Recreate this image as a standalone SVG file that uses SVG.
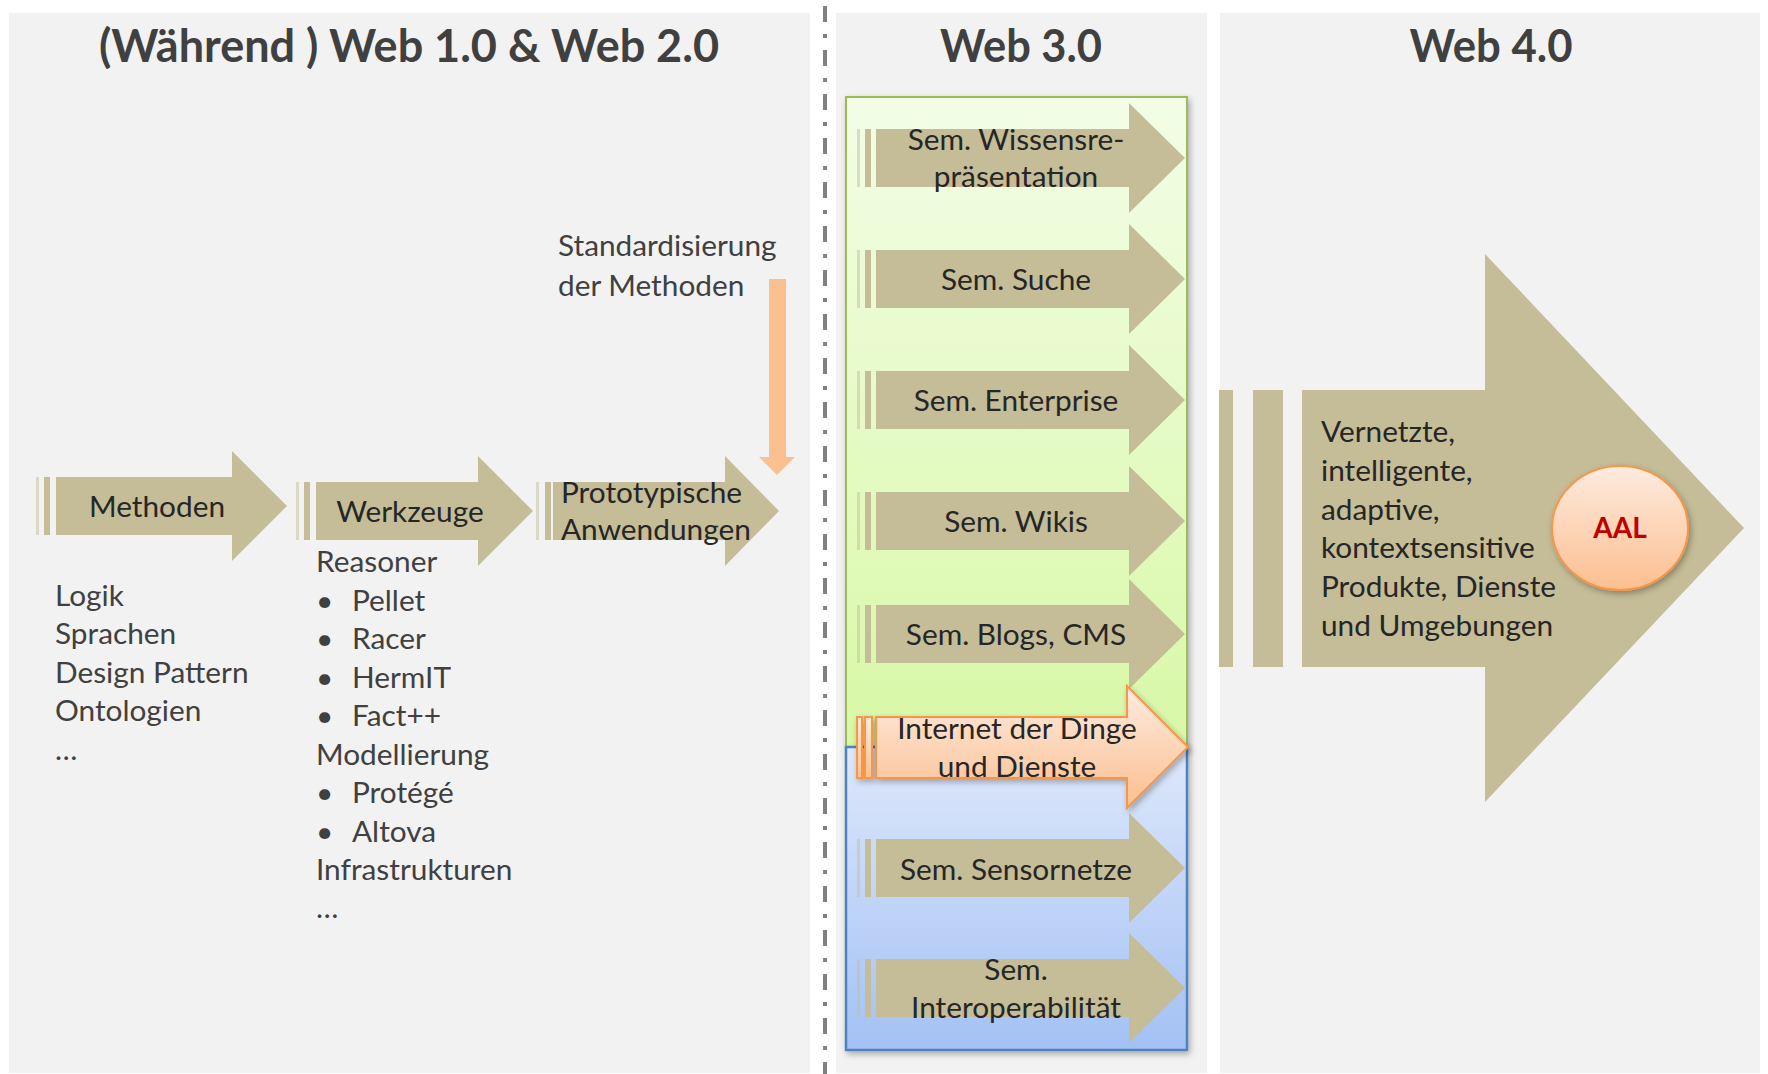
<svg xmlns="http://www.w3.org/2000/svg" width="1768" height="1074" viewBox="0 0 1768 1074">
  <defs>
    <style>
      .panel{fill:#F2F2F2}
      .title{font-family:Lato,'Open Sans',sans-serif;font-weight:700;font-size:46px;fill:#404040;text-anchor:middle}
      .t{font-family:Lato,'Open Sans',sans-serif;font-size:29.8px;fill:#262626}
      .g{fill:#404040}
      .c{text-anchor:middle}
      .tan{fill:#C4BD97}
      .thin{fill:#C4BD97;opacity:.5}
    </style>
    <linearGradient id="gGreen" x1="0" y1="0" x2="0" y2="1">
      <stop offset="0" stop-color="#F3FDE7"/>
      <stop offset="1" stop-color="#D8F8A6"/>
    </linearGradient>
    <linearGradient id="gBlue" x1="0" y1="0" x2="0" y2="1">
      <stop offset="0" stop-color="#DEE8FB"/>
      <stop offset="1" stop-color="#A3C1F4"/>
    </linearGradient>
    <linearGradient id="gPeach" x1="0" y1="0" x2="0" y2="1">
      <stop offset="0" stop-color="#FEEBDF"/>
      <stop offset="1" stop-color="#FBBF90"/>
    </linearGradient>
    <filter id="shadow" x="-10%" y="-10%" width="125%" height="130%">
      <feDropShadow dx="2" dy="3" stdDeviation="3" flood-color="#000" flood-opacity="0.3"/>
    </filter>
    <!-- striped right arrow used in the Web 3.0 column, centred on y=0 -->
    <g id="arrow3">
      <rect class="thin" x="857" y="-29" width="3" height="58"/>
      <rect class="tan" x="865" y="-29" width="6" height="58"/>
      <path class="tan" d="M876,-29 H1129 V-55 L1185,0 L1129,55 V29 H876 Z"/>
    </g>
  </defs>

  <rect width="1768" height="1074" fill="#FFFFFF"/>

  <!-- column backgrounds -->
  <rect class="panel" x="9" y="13" width="801" height="1060"/>
  <rect class="panel" x="836" y="13" width="371" height="1060"/>
  <rect class="panel" x="1220" y="13" width="540" height="1060"/>

  <!-- separator -->
  <line x1="825" y1="6" x2="825" y2="1074" stroke="#808080" stroke-width="4" stroke-dasharray="16 12 4 12"/>

  <!-- column titles -->
  <text class="title" x="409" y="62" textLength="620" lengthAdjust="spacingAndGlyphs">(Während ) Web 1.0 &amp; Web 2.0</text>
  <text class="title" x="1021" y="62" textLength="162" lengthAdjust="spacingAndGlyphs">Web 3.0</text>
  <text class="title" x="1491" y="62" textLength="163" lengthAdjust="spacingAndGlyphs">Web 4.0</text>

  <!-- Web 1.0 / 2.0 -->
  <g id="methoden">
    <rect class="thin" x="36" y="477" width="3" height="58"/>
    <rect class="tan" x="44" y="477" width="6" height="58"/>
    <path class="tan" d="M56,477 H232 V451 L287,506 L232,561 V535 H56 Z"/>
    <text class="t" x="157" y="517" text-anchor="middle">Methoden</text>
    <text class="t g" x="55" y="606">Logik</text>
    <text class="t g" x="55" y="644">Sprachen</text>
    <text class="t g" x="55" y="683">Design Pattern</text>
    <text class="t g" x="55" y="721">Ontologien</text>
    <text class="t g" x="55" y="760">…</text>
  </g>

  <g id="werkzeuge">
    <rect class="thin" x="296" y="482" width="3" height="58"/>
    <rect class="tan" x="304" y="482" width="6" height="58"/>
    <path class="tan" d="M316,482 H478 V456 L533,511 L478,566 V540 H316 Z"/>
    <text class="t" x="410" y="522" text-anchor="middle">Werkzeuge</text>
    <text class="t g" x="316" y="572">Reasoner</text>
    <text class="t g" x="316" y="611">•<tspan x="352">Pellet</tspan></text>
    <text class="t g" x="316" y="649">•<tspan x="352">Racer</tspan></text>
    <text class="t g" x="316" y="688">•<tspan x="352">HermIT</tspan></text>
    <text class="t g" x="316" y="726">•<tspan x="352">Fact++</tspan></text>
    <text class="t g" x="316" y="765">Modellierung</text>
    <text class="t g" x="316" y="803">•<tspan x="352">Protégé</tspan></text>
    <text class="t g" x="316" y="842">•<tspan x="352">Altova</tspan></text>
    <text class="t g" x="316" y="880">Infrastrukturen</text>
    <text class="t g" x="316" y="918">…</text>
  </g>

  <g id="prototypen">
    <rect class="thin" x="536" y="482" width="3" height="58"/>
    <rect class="tan" x="545" y="482" width="6" height="58"/>
    <path class="tan" d="M553,482 H725 V456 L779,511 L725,566 V540 H553 Z"/>
    <text class="t" x="561" y="503">Prototypische</text>
    <text class="t" x="561" y="540">Anwendungen</text>
  </g>

  <g id="standardisierung">
    <text class="t g" x="558" y="256">Standardisierung</text>
    <text class="t g" x="558" y="296">der Methoden</text>
  </g>

  <!-- connectors -->
  <g id="connectors">
    <path d="M769,279 H786 V457 H795 L777,475 L759,457 H769 Z" fill="#FAC090"/>
  </g>

  <!-- Web 3.0 -->
  <g id="web3-green">
    <rect x="846" y="97" width="341" height="650" fill="url(#gGreen)" stroke="#9BBB59" stroke-width="2" filter="url(#shadow)"/>
  </g>
  <g id="web3-blue">
    <rect x="846" y="747" width="341" height="303" fill="url(#gBlue)" stroke="#4F81BD" stroke-width="2.5" filter="url(#shadow)"/>
  </g>

  <g id="wissensrepraesentation">
    <use href="#arrow3" y="158"/>
    <text class="t c" x="1016" y="150">Sem. Wissensre-</text>
    <text class="t c" x="1016" y="187">präsentation</text>
  </g>
  <g id="suche">
    <use href="#arrow3" y="279"/>
    <text class="t c" x="1016" y="290">Sem. Suche</text>
  </g>
  <g id="enterprise">
    <use href="#arrow3" y="400"/>
    <text class="t c" x="1016" y="411">Sem. Enterprise</text>
  </g>
  <g id="wikis">
    <use href="#arrow3" y="521"/>
    <text class="t c" x="1016" y="532">Sem. Wikis</text>
  </g>
  <g id="blogs">
    <use href="#arrow3" y="634"/>
    <text class="t c" x="1016" y="645">Sem. Blogs, CMS</text>
  </g>
  <g id="sensornetze">
    <use href="#arrow3" y="868"/>
    <text class="t c" x="1016" y="880">Sem. Sensornetze</text>
  </g>
  <g id="interoperabilitaet">
    <use href="#arrow3" y="988"/>
    <text class="t c" x="1016" y="980">Sem.</text>
    <text class="t c" x="1016" y="1018">Interoperabilität</text>
  </g>

  <g id="internet-der-dinge">
    <g fill="url(#gPeach)" stroke="#F79646" stroke-width="2" filter="url(#shadow)">
      <rect x="857" y="717" width="5" height="61"/>
      <rect x="865" y="717" width="7" height="61"/>
      <path d="M876,717 H1127 V686 L1188,747 L1127,808 V778 H876 Z"/>
    </g>
    <text class="t c" x="1017" y="739">Internet der Dinge</text>
    <text class="t c" x="1017" y="777">und Dienste</text>
  </g>

  <!-- Web 4.0 -->
  <g id="web4">
    <rect class="tan" x="1219" y="390" width="14" height="277"/>
    <rect class="tan" x="1253" y="390" width="30" height="277"/>
    <path class="tan" d="M1302,390 H1485 V254 L1744,528 L1485,802 V667 H1302 Z"/>
    <text class="t" x="1321" y="442">Vernetzte,</text>
    <text class="t" x="1321" y="481">intelligente,</text>
    <text class="t" x="1321" y="520">adaptive,</text>
    <text class="t" x="1321" y="558">kontextsensitive</text>
    <text class="t" x="1321" y="597">Produkte, Dienste</text>
    <text class="t" x="1321" y="636">und Umgebungen</text>
  </g>

  <g id="aal">
    <ellipse cx="1620" cy="528" rx="68" ry="62" fill="url(#gPeach)" stroke="#F79646" stroke-width="2" filter="url(#shadow)"/>
    <text x="1620" y="538" text-anchor="middle" font-family="Lato,'Open Sans',sans-serif" font-weight="700" font-size="28" fill="#C00000">AAL</text>
  </g>
</svg>
